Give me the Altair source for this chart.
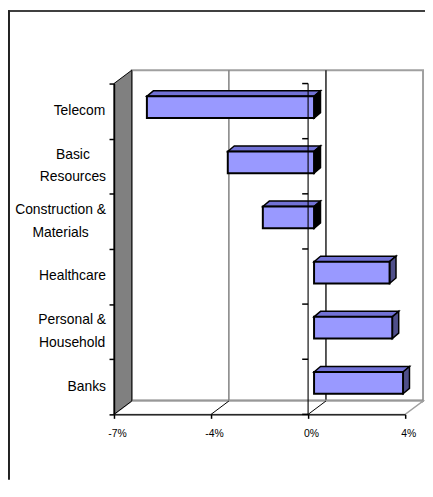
import altair as alt
import pandas as pd

# ---- data ----
categories = ["Telecom", "Basic\nResources", "Construction &\nMaterials",
              "Healthcare", "Personal &\nHousehold", "Banks"]
values = [-6.2, -3.2, -1.9, 2.8, 2.9, 3.3]          # percent
tick_values = [-7.2, -3.6, 0.0, 3.6]                # shown as -7%, -4%, 0%, 4%

# ---- layout / style constants (pixels) ----
W, H = 294, 334
XMIN, XMAX = tick_values[0], tick_values[-1]
N = len(categories)
PXX = W / (XMAX - XMIN)
PXY = H / N


def ux(px):
    return px / PXX


def uy(px):
    return px / PXY


WALL_DX, WALL_DY = 18, -13.5
FACE_SHIFT = 6
FACE_CY = -4
FACE_H = 22
BAR_DX, BAR_DY = 6.5, -5.5

FONT = "Liberation Sans"
LABEL_SIZE = 14
LINE_H = 22.7
LABEL_GAP = 8
FRONT = "#9999FF"
TOP = "#7272D6"
SIDE_POS = "#4F4F8A"

# Arial / Liberation Sans advance widths (per 1000 em) for centring label lines
ARIAL = {"T": 611, "e": 556, "l": 222, "c": 500, "o": 556, "m": 833, "B": 667, "a": 556,
         "s": 500, "i": 222, "R": 722, "u": 556, "r": 333, "C": 722, "n": 556, "t": 278,
         " ": 278, "&": 667, "M": 833, "H": 722, "h": 556, "P": 667, "d": 556, "k": 500}


def text_w(s):
    return sum(ARIAL.get(ch, 556) for ch in s) / 1000 * LABEL_SIZE


xscale = alt.Scale(domain=[XMIN, XMAX], nice=False, zero=False)
yscale = alt.Scale(domain=[0, N], reverse=True, nice=False, zero=False)
xaxis = alt.Axis(values=tick_values,
                 labelExpr="(datum.value < 0 ? '-' : '') + abs(round(datum.value)) + '%'",
                 title=None, grid=False, domainColor="black", domainWidth=1.5,
                 tickColor="black", tickWidth=1.5, tickSize=4, labelFont=FONT,
                 labelFontSize=10.5, labelColor="black", labelBaseline="middle",
                 labelPadding=15, labelOffset=3, labelFlush=False,
                 labelOverlap=False, zindex=2)
yaxis = alt.Axis(values=list(range(N + 1)), labels=False, title=None, grid=False,
                 domainColor="black", domainWidth=1.5, tickColor="black",
                 tickWidth=1.5, tickSize=5, zindex=2)


def X(f="x"):
    return alt.X(f"{f}:Q", scale=xscale, axis=xaxis, stack=None)


def Y(f="y"):
    return alt.Y(f"{f}:Q", scale=yscale, axis=yaxis, stack=None)


# ---- derived tables ----
rows_front, rows_top, rows_side = [], [], []
for i, (c, v) in enumerate(zip(categories, values)):
    a = min(v, 0) + ux(FACE_SHIFT)
    b = max(v, 0) + ux(FACE_SHIFT)
    yt = i + 0.5 + uy(FACE_CY - FACE_H / 2)
    yb = i + 0.5 + uy(FACE_CY + FACE_H / 2)
    rows_front.append(dict(cat=c, v=v, x=a, x2=b, y=yt, y2=yb))
    rows_top += [dict(cat=c, v=v, y=yt, x=a, x2=b),
                 dict(cat=c, v=v, y=yt + uy(BAR_DY), x=a + ux(BAR_DX), x2=b + ux(BAR_DX))]
    rows_side += [dict(cat=c, v=v, x=b, y=yt, y2=yb),
                  dict(cat=c, v=v, x=b + ux(BAR_DX), y=yt + uy(BAR_DY), y2=yb + uy(BAR_DY))]
front_df = pd.DataFrame(rows_front)
top_df = pd.DataFrame(rows_top)
side_df = pd.DataFrame(rows_side)

label_rows = []
for i, c in enumerate(categories):
    lines = c.split("\n")
    wmax = max(text_w(s) for s in lines)
    for j, s in enumerate(lines):
        label_rows.append(dict(txt=s, x=XMIN + ux(-LABEL_GAP - wmax / 2),
                               y=i + 0.5 + uy((j - (len(lines) - 1) / 2) * LINE_H)))
label_df = pd.DataFrame(label_rows)

wall_df = pd.DataFrame([dict(x=XMIN + ux(WALL_DX), x2=XMAX + ux(WALL_DX),
                             y=uy(WALL_DY), y2=N + uy(WALL_DY))])
grid_df = pd.DataFrame([dict(t=t, x=t + ux(WALL_DX), y=uy(WALL_DY), y2=N + uy(WALL_DY))
                        for t in tick_values[1:-1]])
floor_df = pd.DataFrame([dict(k=0, y=N, x=XMIN, x2=XMAX),
                         dict(k=1, y=N + uy(WALL_DY), x=XMIN + ux(WALL_DX), x2=XMAX + ux(WALL_DX))])
diag_df = pd.DataFrame([dict(x=t, x2=t + ux(WALL_DX), y=N, y2=N + uy(WALL_DY))
                        for t in tick_values[1:-1]])
lwall_df = pd.DataFrame([dict(k=0, x=XMIN, y=0, y2=N),
                         dict(k=1, x=XMIN + ux(WALL_DX), y=uy(WALL_DY), y2=N + uy(WALL_DY))])
zero_df = pd.DataFrame([dict(x=0.0, y=0, y2=N)])
zticks_df = pd.DataFrame([dict(x=0.0, x2=0.0, y=k) for k in range(N + 1)])

# ---- layers ----
back = alt.Chart(wall_df).mark_rect(fill="white", stroke="#A0A0A0", strokeWidth=2).encode(
    x=X(), x2="x2:Q", y=Y(), y2="y2:Q")
back_bottom = alt.Chart(wall_df).mark_rule(color="#808080", strokeWidth=3).encode(
    x=X(), x2="x2:Q", y=Y("y2"))
grid = alt.Chart(grid_df).mark_rule(strokeWidth=1.5).encode(
    x=X(), y=Y(), y2="y2:Q",
    color=alt.condition("datum.t == 0", alt.value("#202020"), alt.value("#808080")))
floor = alt.Chart(floor_df).mark_area(orient="horizontal", fill="white", stroke="#A0A0A0",
                                      strokeWidth=1.5).encode(y=Y(), x=X(), x2="x2:Q")
diag = alt.Chart(diag_df).mark_rule(color="black", strokeWidth=1).encode(
    x=X(), x2="x2:Q", y=Y(), y2="y2:Q")
lwall = alt.Chart(lwall_df).mark_area(orient="vertical", fill="#808080", stroke="black",
                                      strokeWidth=1).encode(x=X(), y=Y(), y2="y2:Q")
tops = alt.Chart(top_df).mark_area(orient="horizontal", fill=TOP, stroke="black",
                                   strokeWidth=1.5).encode(y=Y(), x=X(), x2="x2:Q", detail="cat:N")
sides = alt.Chart(side_df).mark_area(orient="vertical", stroke="black", strokeWidth=1.5).encode(
    x=X(), y=Y(), y2="y2:Q", detail="cat:N",
    fill=alt.condition("datum.v < 0", alt.value("black"), alt.value(SIDE_POS)))
fronts = alt.Chart(front_df).mark_rect(fill=FRONT, stroke="black", strokeWidth=2).encode(
    x=X(), x2="x2:Q", y=Y(), y2="y2:Q")
zero = alt.Chart(zero_df).mark_rule(color="black", strokeWidth=1.5, opacity=0.75).encode(
    x=X(), y=Y(), y2="y2:Q")
zticks = alt.Chart(zticks_df).mark_rule(color="black", strokeWidth=1.5, xOffset=-6).encode(
    x=X(), x2="x2:Q", y=Y())
labels = alt.Chart(label_df).mark_text(align="center", baseline="middle",
                                       fontSize=LABEL_SIZE, font=FONT,
                                       color="black").encode(x=X(), y=Y(), text="txt:N")
frame_top = alt.Chart(wall_df).mark_rule(color="black", strokeWidth=1.5).encode(
    x=alt.value(-107), x2=alt.value(W + 20), y=alt.value(-73.25))
frame_left = alt.Chart(wall_df).mark_rule(color="#222222", strokeWidth=2).encode(
    x=alt.value(-106), y=alt.value(-74), y2=alt.value(H + 66))

chart = alt.layer(back, grid, back_bottom, floor, diag, lwall, tops, sides, fronts,
                  zero, zticks, labels, frame_top, frame_left).properties(
    width=W, height=H,
    autosize=alt.AutoSizeParams(type="none"),
    padding={"left": 107, "top": 74, "right": 20, "bottom": 66},
    background="white",
).configure_view(stroke=None)

chart.save("out.html", embed_options={"renderer": "svg", "actions": False})
